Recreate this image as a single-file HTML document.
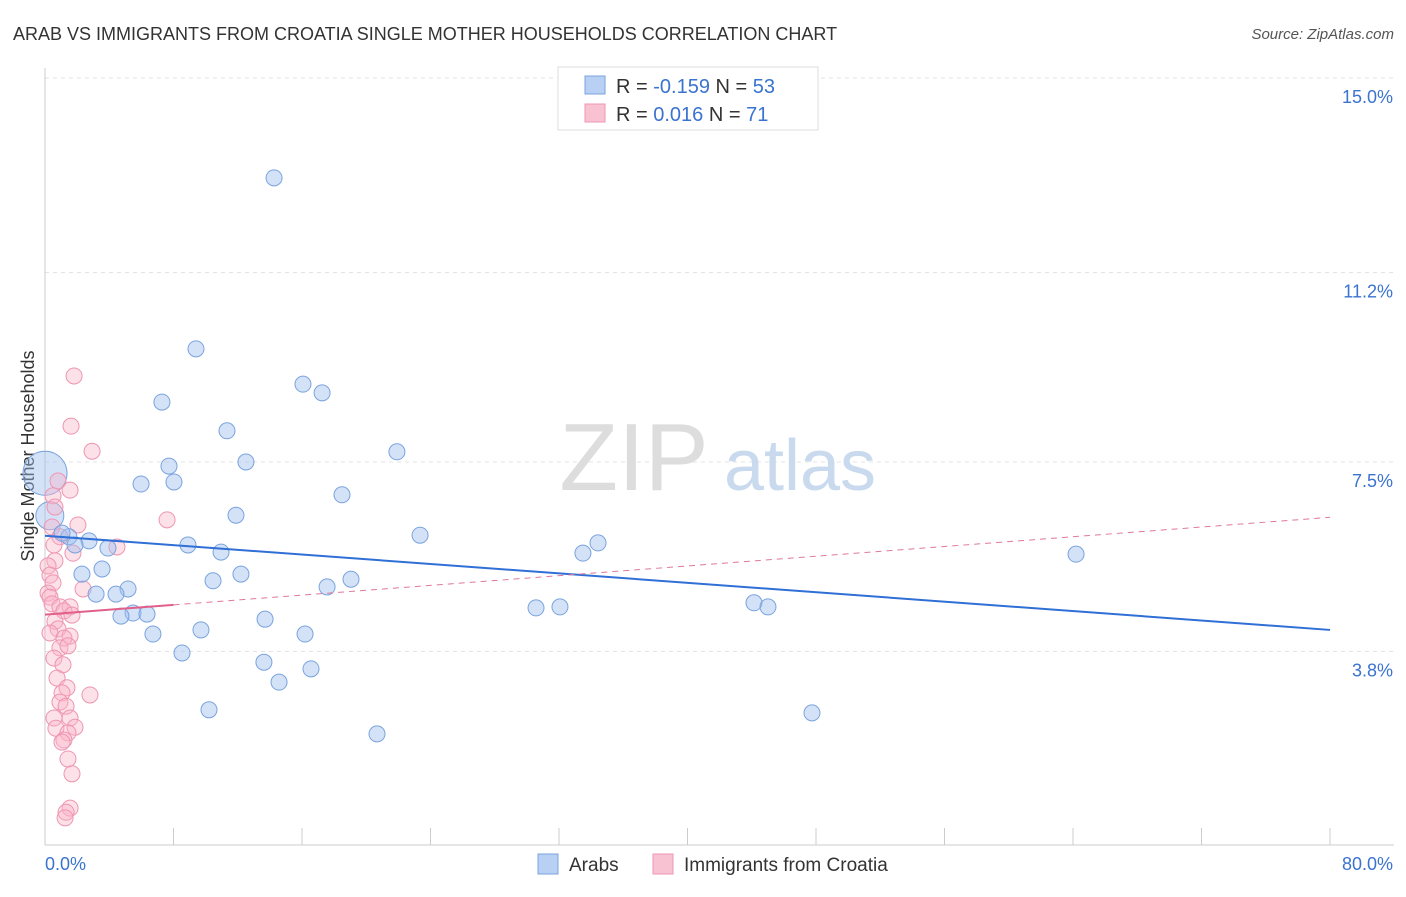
<!DOCTYPE html>
<html><head><meta charset="utf-8">
<style>
body{margin:0;background:#fff;font-family:"Liberation Sans",sans-serif;}
svg text{font-family:"Liberation Sans",sans-serif;}
</style></head>
<body>
<svg id="chart" width="1406" height="892" xmlns="http://www.w3.org/2000/svg">
<text x="13" y="40" font-size="18" fill="#333">ARAB VS IMMIGRANTS FROM CROATIA SINGLE MOTHER HOUSEHOLDS CORRELATION CHART</text>
<text x="1394" y="39" font-size="15" fill="#555" text-anchor="end" font-style="italic">Source: ZipAtlas.com</text>
<g id="grid"></g>
<g>
<text x="634" y="490" font-size="96" fill="#ddd" text-anchor="middle" font-family="Liberation Serif">ZIP</text>
<text x="800" y="490" font-size="72" fill="#c9d9ee" text-anchor="middle">atlas</text>
</g>
<text transform="translate(34,456) rotate(-90)" font-size="18" fill="#333" text-anchor="middle">Single Mother Households</text>
<g id="marks"></g>
<g>
<rect x="558" y="67" width="260" height="63" fill="#fff" stroke="#ddd"/>
<rect x="585" y="76" width="20" height="18" fill="#b8d0f4" stroke="#7aa3de"/>
<rect x="585" y="104" width="20" height="18" fill="#f9c2d3" stroke="#ee95b2"/>
<text x="616" y="93" font-size="20" fill="#333">R = <tspan fill="#3a73d0">-0.159</tspan>   N = <tspan fill="#3a73d0">53</tspan></text>
<text x="616" y="121" font-size="20" fill="#333">R =  <tspan fill="#3a73d0">0.016</tspan>   N =  <tspan fill="#3a73d0">71</tspan></text>
</g>
<g>
<rect x="538" y="854" width="20" height="20" fill="#b8d0f4" stroke="#7aa3de"/>
<text x="569" y="871" font-size="19" fill="#333">Arabs</text>
<rect x="653" y="854" width="20" height="20" fill="#f9c2d3" stroke="#ee95b2"/>
<text x="684" y="871" font-size="19" fill="#333">Immigrants from Croatia</text>
</g>
</svg>
<script>
const xTicks=[0,8,16,24,32,40,48,56,64,72,80];
const yTicks=[3.8,7.5,11.2,15.0];
const yTickLabels=["3.8%","7.5%","11.2%","15.0%"];
const arabPx=[[274,178],[196,349],[303,384],[322,393],[162,402],[227,431],[397,452],[169,466],[246,462],[141,484],[174,482],[342,495],[236,515],[420,535],[598,543],[583,553],[1076,554],[89,541],[69,537],[62,533],[75,545],[108,548],[188,545],[221,552],[102,569],[82,574],[241,574],[351,579],[213,581],[327,587],[128,589],[96,594],[116,594],[536,608],[560,607],[754,603],[768,607],[133,613],[147,614],[121,616],[265,619],[201,630],[153,634],[305,634],[182,653],[264,662],[311,669],[279,682],[209,710],[812,713],[377,734]];
const croPx=[[74,376],[71,426],[92,451],[58,481],[70,490],[53,496],[55,507],[78,525],[167,520],[52,527],[60,537],[117,547],[54,545],[73,553],[55,561],[48,566],[50,575],[53,583],[83,589],[48,593],[50,597],[52,604],[60,607],[70,607],[64,611],[72,615],[55,621],[58,629],[50,633],[70,636],[64,638],[60,648],[68,646],[54,658],[63,665],[57,678],[90,695],[67,688],[62,693],[60,702],[66,706],[54,718],[70,718],[75,727],[56,728],[68,733],[64,740],[62,742],[68,759],[72,774],[70,808],[66,812],[65,818]];
// convert read pixel estimates into data values (percent)
const arabX=arabPx.map(p=>+((p[0]-45)/1285*80).toFixed(2));
const arabY=arabPx.map(p=>+(15-(p[1]-78)/51.2).toFixed(2));
const croX=croPx.map(p=>+((p[0]-45)/1285*80).toFixed(2));
const croY=croPx.map(p=>+(15-(p[1]-78)/51.2).toFixed(2));
const arabBig=[[0,7.28],[0.3,6.45]];
const arabTrend=[[0,6.06],[80,4.22]];
const croTrend=[[0,4.52],[80,6.42]];
const croSolidEnd=8;

const X=v=>45+v/80*1285;
const Y=v=>78+(15-v)*51.2;
const NS="http://www.w3.org/2000/svg";
function mk(t,a,parent){const e=document.createElementNS(NS,t);for(const k in a)e.setAttribute(k,a[k]);parent.appendChild(e);return e;}
const grid=document.getElementById('grid'),marks=document.getElementById('marks');
yTicks.forEach((t,i)=>{
 const l=mk('line',{x1:45,x2:1394,y1:Y(t),y2:Y(t),stroke:'#e3e3e3','stroke-dasharray':'4,4'},grid);
 
 const tx=mk('text',{x:1393,y:Y(t)+25,'font-size':18,fill:'#3a73d0','text-anchor':'end'},grid);
 tx.textContent=yTickLabels[i];
 
});
const ax=mk('line',{x1:45,x2:1394,y1:845,y2:845,stroke:'#ccc'},grid);

const ay=mk('line',{x1:45,x2:45,y1:68,y2:845,stroke:'#ccc'},grid);

xTicks.forEach(t=>{const l=mk('line',{x1:X(t),x2:X(t),y1:828,y2:845,stroke:'#ccc'},grid);
 });
let t0=mk('text',{x:45,y:870,'font-size':18,fill:'#3a73d0'},grid);t0.textContent='0.0%';

let t1=mk('text',{x:1393,y:870,'font-size':18,fill:'#3a73d0','text-anchor':'end'},grid);t1.textContent='80.0%';


arabBig.forEach(p=>{const c=mk('circle',{cx:X(p[0]),cy:Y(p[1]),r:p[1]>7?22:14,fill:'rgba(160,190,240,0.45)',stroke:'#7aa3de'},marks);
 });
croX.forEach((x,i)=>{const c=mk('circle',{cx:X(x),cy:Y(croY[i]),r:8,fill:'rgba(249,180,200,0.4)',stroke:'#ee95b2'},marks);
 });
arabX.forEach((x,i)=>{const c=mk('circle',{cx:X(x),cy:Y(arabY[i]),r:8,fill:'rgba(160,190,240,0.45)',stroke:'#7aa3de'},marks);
 });
const lb=mk('line',{x1:X(arabTrend[0][0]),y1:Y(arabTrend[0][1]),x2:X(arabTrend[1][0]),y2:Y(arabTrend[1][1]),stroke:'#2f6fd6','stroke-width':2},marks);

const slope=(croTrend[1][1]-croTrend[0][1])/80;
const ld=mk('line',{x1:X(croSolidEnd),y1:Y(croTrend[0][1]+slope*croSolidEnd),x2:X(croTrend[1][0]),y2:Y(croTrend[1][1]),stroke:'#e07799','stroke-width':1,'stroke-dasharray':'6,5'},marks);

const ls=mk('line',{x1:X(croTrend[0][0]),y1:Y(croTrend[0][1]),x2:X(croSolidEnd),y2:Y(croTrend[0][1]+slope*croSolidEnd),stroke:'#e0608a','stroke-width':2},marks);

</script>
</body></html>
